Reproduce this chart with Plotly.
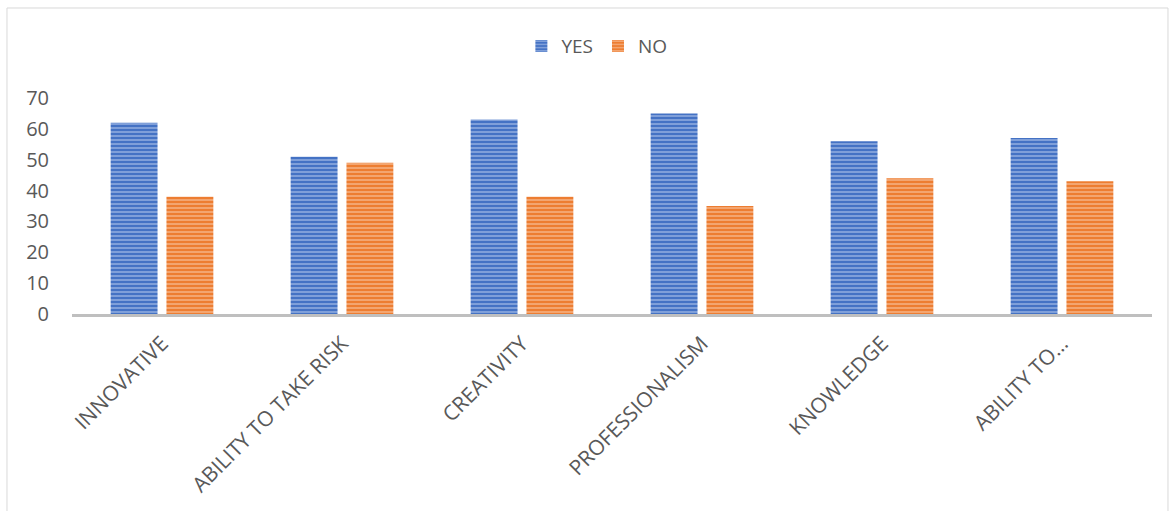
import plotly.graph_objects as go

categories = ["INNOVATIVE", "ABILITY TO TAKE RISK", "CREATIVITY", "PROFESSIONALISM", "KNOWLEDGE", "ABILITY TO…"]
yes_values = [62, 51, 63, 65, 56, 57]
no_values = [38, 49, 38, 35, 44, 43]
y_ticks = [0, 10, 20, 30, 40, 50, 60, 70]

fig = go.Figure()
fig.add_trace(go.Bar(
    x=categories, y=yes_values, name="YES",
    marker=dict(color="#4472C4", line=dict(width=0),
                pattern=dict(shape="-", fgcolor="#c8d6f2", bgcolor="#4472C4", size=4, solidity=0.45)),
))
fig.add_trace(go.Bar(
    x=categories, y=no_values, name="NO",
    marker=dict(color="#ED7D31", line=dict(width=0),
                pattern=dict(shape="-", fgcolor="#fbd6bd", bgcolor="#ED7D31", size=4, solidity=0.45)),
))

fig.update_layout(
    width=1171, height=511,
    margin=dict(l=72, r=19, t=98, b=197),
    paper_bgcolor="white", plot_bgcolor="white",
    font=dict(family="Open Sans", color="#595959"),
    barmode="group", bargap=0.38, bargroupgap=0.16,
    showlegend=True,
    legend=dict(orientation="h", x=0.486, xanchor="center", y=1.24, yanchor="middle",
                font=dict(size=19, color="#595959"), itemwidth=30, traceorder="normal"),
    xaxis=dict(showgrid=False, showline=True, linecolor="#bfbfbf", linewidth=3,
               tickangle=-45, tickfont=dict(size=21, color="#595959"), ticks="",
               ticklabelstandoff=6),
    yaxis=dict(range=[0, 70], tickvals=y_ticks, showgrid=False, zeroline=False,
               showline=False, tickfont=dict(size=20, color="#595959"), ticklabelstandoff=22),
    shapes=[dict(type="rect", xref="paper", yref="paper",
                 x0=-0.0602, x1=1.0148, y0=-1.1, y1=1.4167,
                 line=dict(color="#d9d9d9", width=1), fillcolor="rgba(0,0,0,0)")],
)

fig.write_html("out.html")
